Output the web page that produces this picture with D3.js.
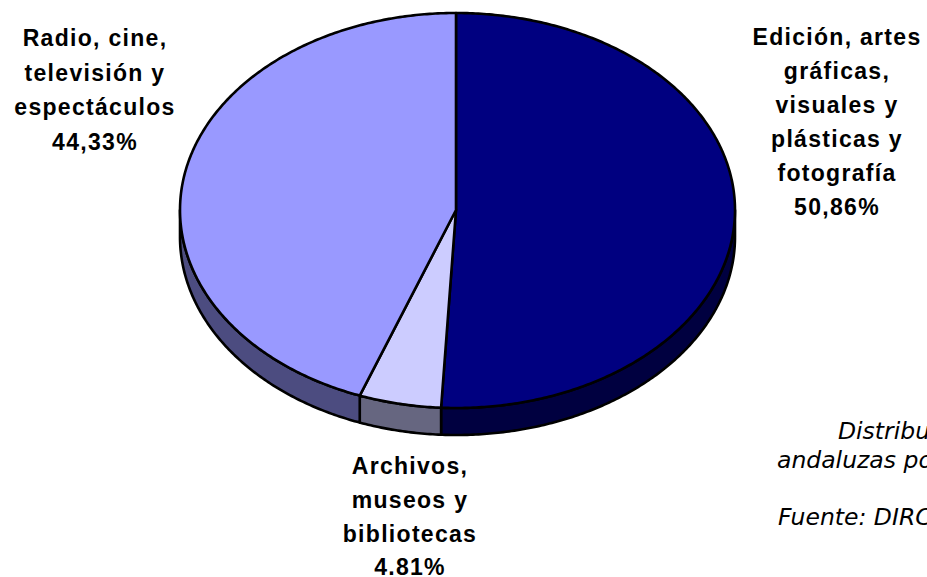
<!DOCTYPE html>
<html><head><meta charset="utf-8">
<script src="https://cdn.jsdelivr.net/npm/d3@7"></script>
<style>html,body{margin:0;padding:0;background:#fff;overflow:hidden}svg{display:block}</style>
</head><body><svg id="c" width="927" height="577"></svg>
<script>
const categories=["Edición, artes gráficas, visuales y plásticas y fotografía","Archivos, museos y bibliotecas","Radio, cine, televisión y espectáculos"];
const values=[50.86,4.81,44.33];
const valueLabels=["50,86%","4.81%","44,33%"];
const topColors=["#000080","#ccccff","#9999ff"];
const sideColors=["#000040","#666680","#4c4c80"];
const labelLines=[["Edición, artes","gráficas,","visuales y","plásticas y","fotografía"],["Archivos,","museos y","bibliotecas"],["Radio, cine,","televisión y","espectáculos"]];
const labelPos=[[837,45,34],[410,474,33.8],[95,46,34.5]];
const noteLines=[["Distribución",838,439],["andaluzas por",777,468],["Fuente: DIRCE",778,525]];

const svg=d3.select("#c");
const depth=27;
const pie=d3.pie().sort(null).value(d=>d)(values);
const X=d3.scaleLinear().domain([-1,0,1]).range([180,456,735]);
const Y=d3.scaleLinear().domain([-1,0,1]).range([13,210,408]);
const px=a=>X(Math.sin(a)), py=a=>Y(-Math.cos(a));
const line=d3.line();
const sample=(a0,a1)=>d3.range(a0,a1,0.01).concat([a1]);
const stroke=sel=>sel.attr("stroke","#000").attr("stroke-width",2.6).attr("stroke-linejoin","round");

// side walls
pie.forEach((s,i)=>{
  const a0=Math.max(s.startAngle,Math.PI/2),a1=Math.min(s.endAngle,Math.PI*1.5);
  if(a1<=a0)return;
  const as=sample(a0,a1);
  const pts=as.map(a=>[px(a),py(a)]).concat(as.slice().reverse().map(a=>[px(a),py(a)+depth]));
  svg.append("path").attr("d",line(pts)+"Z").attr("fill",sideColors[i]).call(stroke);
});
// top faces
svg.append("g").selectAll("path").data(pie).join("path")
  .attr("d",s=>line([[X(0),Y(0)]].concat(sample(s.startAngle,s.endAngle).map(a=>[px(a),py(a)])))+"Z")
  .attr("fill",(d,i)=>topColors[i]).call(stroke);

// labels
labelPos.forEach((p,i)=>{
  const t=svg.append("text").attr("text-anchor","middle").attr("font-family","'Liberation Sans',Arial,sans-serif")
    .attr("font-weight","bold").attr("font-size",23).attr("letter-spacing",1.3).attr("fill","#000");
  labelLines[i].concat([valueLabels[i]]).forEach((l,j)=>{
    t.append("tspan").attr("x",p[0]).attr("y",p[1]+j*p[2]).text(l);
  });
});
// note, cut off by the page edge as in the source
svg.append("g").selectAll("text").data(noteLines).join("text")
  .attr("x",d=>d[1]).attr("y",d=>d[2]).text(d=>d[0])
  .attr("font-family","'DejaVu Sans',Verdana,sans-serif").attr("font-style","italic").attr("font-size",23.5).attr("fill","#000");
</script></body></html>
